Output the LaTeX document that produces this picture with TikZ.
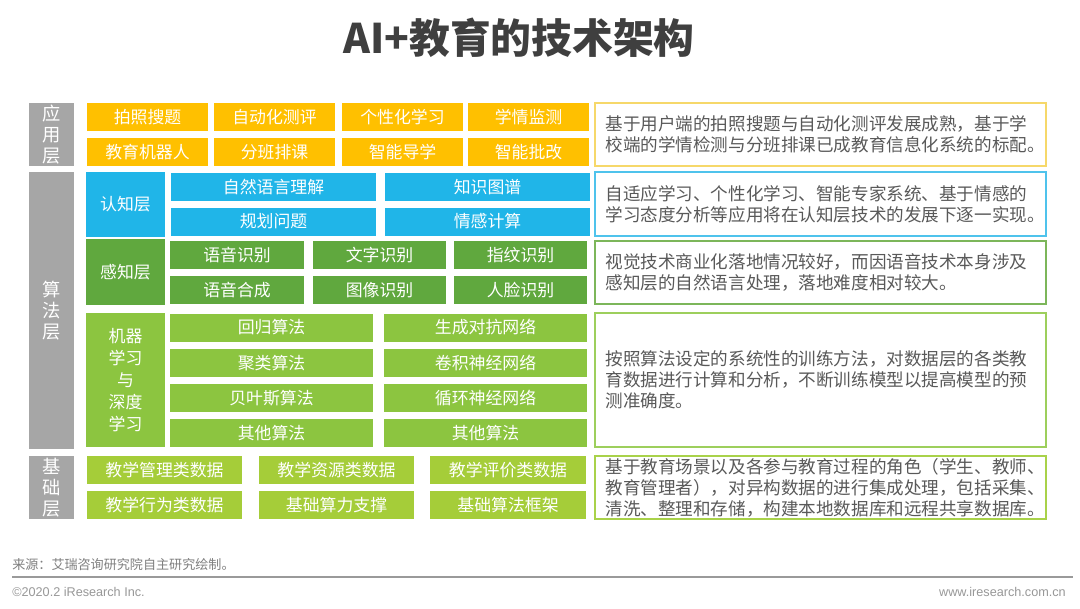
\documentclass[tikz,border=0pt]{standalone}
\usepackage{fontspec}
\setmainfont{Noto Sans CJK SC}
\newfontfamily\latinfont{Liberation Sans}
\definecolor{titlegray}{HTML}{3F3F3F}
\definecolor{lyrgray}{HTML}{A6A6A6}
\definecolor{appyellow}{HTML}{FFC000}
\definecolor{cogblue}{HTML}{20B5E8}
\definecolor{pergreen}{HTML}{60A83E}
\definecolor{mlgreen}{HTML}{8CC540}
\definecolor{basegreen}{HTML}{A5CD39}
\definecolor{appline}{HTML}{F6D86A}
\definecolor{cogline}{HTML}{4FC3EC}
\definecolor{perline}{HTML}{7CB65A}
\definecolor{mlline}{HTML}{9DCF5C}
\definecolor{baseline}{HTML}{A9D24A}
\definecolor{notegray}{HTML}{595959}
\definecolor{footgray}{HTML}{7F7F7F}
\definecolor{rulegray}{HTML}{9A9A9A}
\usetikzlibrary{positioning}

\begin{document}
\begin{tikzpicture}[x=0.025cm,y=-0.025cm,
  lyr/.style={fill=lyrgray,text=white,minimum width=1.125cm,inner sep=0pt,
    align=center,font=\fontsize{13}{15}\selectfont},
  sublyr/.style={text=white,minimum width=1.975cm,inner sep=0pt,
    align=center,font=\fontsize{12}{15.5}\selectfont},
  cell/.style={text=white,minimum height=0.7cm,inner sep=0pt,font=\fontsize{12}{14}\selectfont},
  note/.style={draw,line width=1.2pt,fill=white,text=notegray,text width=10.75cm,
    inner xsep=0.2625cm,inner ysep=0pt,align=left,font=\fontsize{12.5}{15}\selectfont}
]
  \useasboundingbox[fill=white] (0,0) rectangle (1080,608);
  % Title
  \node[font=\fontsize{29}{33}\selectfont\bfseries,text=titlegray] (title) at (519,38) {AI+教育的技术架构};

  % Layer 1: application
  \node[lyr,minimum height=1.575cm] (appLyr) at (51.5,134.5) {应\\用\\层};
  \node[cell,fill=appyellow,minimum width=3.025cm] (app1) at (147.5,117) {拍照搜题};
  \node[cell,fill=appyellow,minimum width=3.025cm] (app2) at (274.5,117) {自动化测评};
  \node[cell,fill=appyellow,minimum width=3.025cm] (app3) at (402.5,117) {个性化学习};
  \node[cell,fill=appyellow,minimum width=3.025cm] (app4) at (528.5,117) {学情监测};
  \node[cell,fill=appyellow,minimum width=3.025cm] (app5) at (147.5,152) {教育机器人};
  \node[cell,fill=appyellow,minimum width=3.025cm] (app6) at (274.5,152) {分班排课};
  \node[cell,fill=appyellow,minimum width=3.025cm] (app7) at (402.5,152) {智能导学};
  \node[cell,fill=appyellow,minimum width=3.025cm] (app8) at (528.5,152) {智能批改};
  \node[note,draw=appline,minimum height=1.575cm] (appNote) at (820.5,134.5) {
    基于用户端的拍照搜题与自动化测评发展成熟，基于学\\
    校端的学情检测与分班排课已成教育信息化系统的标配。};

  % Layer 2: algorithms
  \node[lyr,minimum height=6.925cm] (algoLyr) at (51.5,310.5) {算\\法\\层};
  % cognition
  \node[sublyr,fill=cogblue,minimum height=1.625cm] (cogLyr) at (125.5,204.5) {认知层};
  \node[cell,fill=cogblue,minimum width=5.1cm] (cog1) at (273.5,187) {自然语言理解};
  \node[cell,fill=cogblue,minimum width=5.1cm] (cog2) at (487.5,187) {知识图谱};
  \node[cell,fill=cogblue,minimum width=5.1cm] (cog3) at (273.5,221.5) {规划问题};
  \node[cell,fill=cogblue,minimum width=5.1cm] (cog4) at (487.5,221.5) {情感计算};
  \node[note,draw=cogline,minimum height=1.6cm] (cogNote) at (820.5,204) {
    自适应学习、个性化学习、智能专家系统、基于情感的\\
    学习态度分析等应用将在认知层技术的发展下逐一实现。};
  % perception
  \node[sublyr,fill=pergreen,minimum height=1.65cm] (perLyr) at (125.5,272) {感知层};
  \node[cell,fill=pergreen,minimum width=3.325cm] (per1) at (237,255) {语音识别};
  \node[cell,fill=pergreen,minimum width=3.325cm] (per2) at (379.5,255) {文字识别};
  \node[cell,fill=pergreen,minimum width=3.325cm] (per3) at (520.5,255) {指纹识别};
  \node[cell,fill=pergreen,minimum width=3.325cm] (per4) at (237,290) {语音合成};
  \node[cell,fill=pergreen,minimum width=3.325cm] (per5) at (379.5,290) {图像识别};
  \node[cell,fill=pergreen,minimum width=3.325cm] (per6) at (520.5,290) {人脸识别};
  \node[note,draw=perline,minimum height=1.575cm] (perNote) at (820.5,272.5) {
    视觉技术商业化落地情况较好，而因语音技术本身涉及\\
    感知层的自然语言处理，落地难度相对较大。};
  % machine learning and deep learning
  \node[sublyr,fill=mlgreen,minimum height=3.35cm] (mlLyr) at (125.5,380) {机器\\学习\\与\\深度\\学习};
  \node[cell,fill=mlgreen,minimum width=5.05cm] (ml1) at (271.5,327.5) {回归算法};
  \node[cell,fill=mlgreen,minimum width=5.05cm] (ml2) at (485.5,327.5) {生成对抗网络};
  \node[cell,fill=mlgreen,minimum width=5.05cm] (ml3) at (271.5,363) {聚类算法};
  \node[cell,fill=mlgreen,minimum width=5.05cm] (ml4) at (485.5,363) {卷积神经网络};
  \node[cell,fill=mlgreen,minimum width=5.05cm] (ml5) at (271.5,398) {贝叶斯算法};
  \node[cell,fill=mlgreen,minimum width=5.05cm] (ml6) at (485.5,398) {循环神经网络};
  \node[cell,fill=mlgreen,minimum width=5.05cm] (ml7) at (271.5,433) {其他算法};
  \node[cell,fill=mlgreen,minimum width=5.05cm] (ml8) at (485.5,433) {其他算法};
  \node[note,draw=mlline,minimum height=3.35cm] (mlNote) at (820.5,380) {
    按照算法设定的系统性的训练方法，对数据层的各类教\\
    育数据进行计算和分析，不断训练模型以提高模型的预\\
    测准确度。};

  % Layer 3: foundation
  \node[lyr,minimum height=1.575cm] (baseLyr) at (51.5,487.5) {基\\础\\层};
  \node[cell,fill=basegreen,minimum width=3.875cm] (base1) at (164.5,470) {教学管理类数据};
  \node[cell,fill=basegreen,minimum width=3.875cm] (base2) at (336.5,470) {教学资源类数据};
  \node[cell,fill=basegreen,minimum width=3.875cm] (base3) at (508,470) {教学评价类数据};
  \node[cell,fill=basegreen,minimum width=3.875cm] (base4) at (164.5,505) {教学行为类数据};
  \node[cell,fill=basegreen,minimum width=3.875cm] (base5) at (336.5,505) {基础算力支撑};
  \node[cell,fill=basegreen,minimum width=3.875cm] (base6) at (508,505) {基础算法框架};
  \node[note,draw=baseline,minimum height=1.575cm] (baseNote) at (820.5,487.5) {
    基于教育场景以及各参与教育过程的角色（学生、教师、\\
    教育管理者），对异构数据的进行集成处理，包括采集、\\
    清洗、整理和存储，构建本地数据库和远程共享数据库。};

  % Footer
  \node[anchor=west,inner sep=0pt,text=footgray,font=\fontsize{9.3}{11}\selectfont] (src) at (12,565) {来源：艾瑞咨询研究院自主研究绘制。};
  \draw[rulegray,line width=1.5pt] (12,577) -- (1073,577);
  \node[anchor=west,inner sep=0pt,text=footgray!80,font=\latinfont\fontsize{9}{11}\selectfont] (copy) at (12,592) {©2020.2 iResearch Inc.};
  \node[anchor=east,inner sep=0pt,text=footgray!80,font=\latinfont\fontsize{9}{11}\selectfont] (web) at (1066,592) {www.iresearch.com.cn};
\end{tikzpicture}
\end{document}
